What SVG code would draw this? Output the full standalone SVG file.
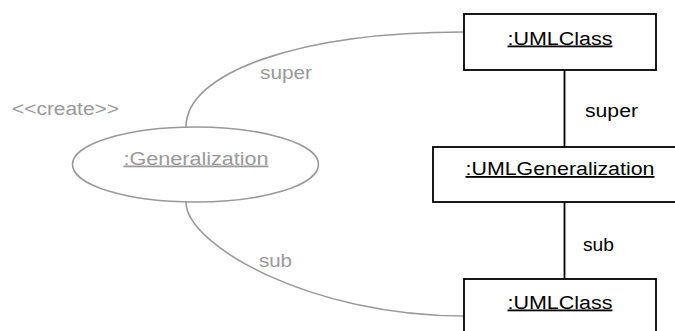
<svg xmlns="http://www.w3.org/2000/svg" width="675" height="331" viewBox="0 0 675 331">
<style>
.t{font-family:"Liberation Sans",Arial,sans-serif;font-size:18px}
.blk{fill:#000}
.gry{fill:#999}
.u{text-decoration:underline}
.box{fill:#fff;stroke:#000;stroke-width:1.8}
.ln{fill:none;stroke:#000;stroke-width:1.8}
.gl{fill:none;stroke:#999;stroke-width:1.6}
</style>
<rect width="675" height="331" fill="#fff"/>
<g id="connectors">
<path class="gl" d="M186,127 C186,72 300,32 464,32"/>
<path class="gl" d="M186,202 C186,245 310,316 464,316"/>
<line class="ln" x1="564.5" y1="70" x2="564.5" y2="147"/>
<line class="ln" x1="564.5" y1="202" x2="564.5" y2="279"/>
<text class="t gry" x="260" y="79" textLength="52" lengthAdjust="spacingAndGlyphs">super</text>
<text class="t gry" x="259" y="267" textLength="33" lengthAdjust="spacingAndGlyphs">sub</text>
<text class="t blk" x="585" y="117" textLength="53" lengthAdjust="spacingAndGlyphs">super</text>
<text class="t blk" x="583" y="251" textLength="31" lengthAdjust="spacingAndGlyphs">sub</text>
</g>
<g id="generalization">
<ellipse cx="195.5" cy="164.5" rx="123" ry="37.5" fill="#fff" stroke="#999" stroke-width="1.6"/>
<text class="t gry u" x="196" y="164.5" text-anchor="middle" textLength="145" lengthAdjust="spacingAndGlyphs">:Generalization</text>
<text class="t gry" x="12" y="114.5" textLength="107" lengthAdjust="spacingAndGlyphs">&lt;&lt;create&gt;&gt;</text>
</g>
<g id="umlclass-super">
<rect class="box" x="464" y="14" width="192" height="56"/>
<text class="t blk u" x="560" y="44.5" text-anchor="middle" textLength="105" lengthAdjust="spacingAndGlyphs">:UMLClass</text>
</g>
<g id="umlgeneralization">
<rect class="box" x="433" y="147" width="254" height="55"/>
<text class="t blk u" x="560" y="175" text-anchor="middle" textLength="189" lengthAdjust="spacingAndGlyphs">:UMLGeneralization</text>
</g>
<g id="umlclass-sub">
<rect class="box" x="464" y="279" width="192" height="60"/>
<text class="t blk u" x="560" y="308.5" text-anchor="middle" textLength="105" lengthAdjust="spacingAndGlyphs">:UMLClass</text>
</g>
</svg>
